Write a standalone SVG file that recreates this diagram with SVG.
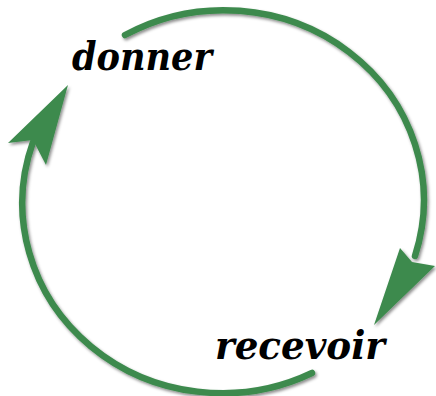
<svg xmlns="http://www.w3.org/2000/svg" width="436" height="396" viewBox="0 0 436 396">
  <defs>
    <filter id="sh" x="-10%" y="-10%" width="130%" height="130%">
      <feDropShadow dx="1.5" dy="2" stdDeviation="1.5" flood-color="#000" flood-opacity="0.45"/>
    </filter>
    <style>
      .arc { fill: none; stroke: #3e8a4e; stroke-width: 6.5; stroke-linecap: round; }
      .head { fill: #3e8a4e; }
      .lbl { font-family: "DejaVu Serif", serif; font-style: italic; font-weight: bold; fill: #000; }
    </style>
  </defs>
  <rect width="436" height="396" fill="#fff"/>
  <g id="connectors" filter="url(#sh)">
    <path class="arc" d="M125,35 A200,190 0 0 1 415,256"/>
    <polygon class="head" points="374,325 400,248 412,262 435,266"/>
    <path class="arc" d="M312,373 A200,190 0 0 1 33,142"/>
    <polygon class="head" points="68,85 46,165 33,140 8,143"/>
  </g>
  <g id="donner">
    <text class="lbl" x="72" y="70" font-size="40" textLength="140" lengthAdjust="spacingAndGlyphs">donner</text>
  </g>
  <g id="recevoir">
    <text class="lbl" x="215" y="359" font-size="40" textLength="170" lengthAdjust="spacingAndGlyphs">recevoir</text>
  </g>
</svg>
